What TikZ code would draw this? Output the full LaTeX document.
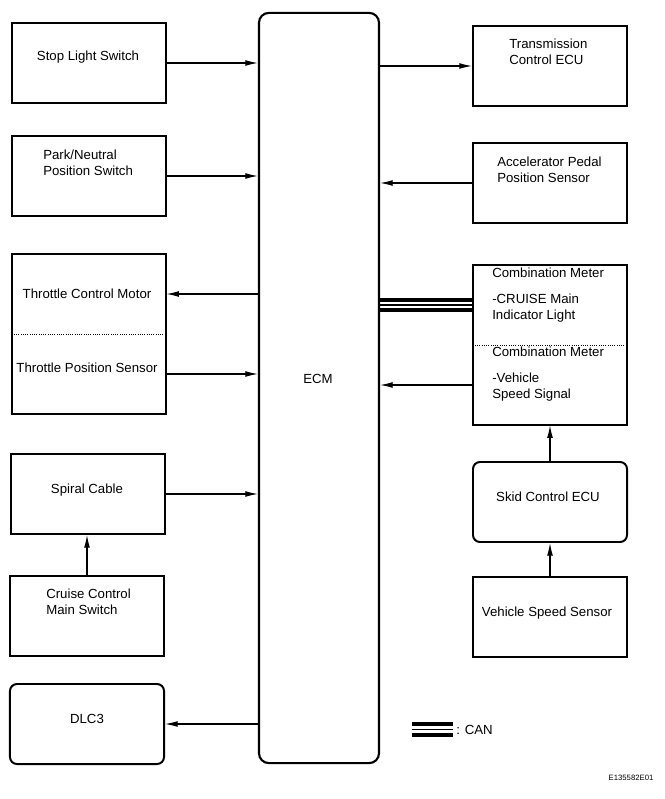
\documentclass[tikz,border=0pt]{standalone}
\usepackage{fontspec}
\setmainfont{Liberation Sans}
\usetikzlibrary{arrows.meta}
\begin{document}
\begin{tikzpicture}[x=0.025cm, y=-0.025cm,
            every node/.style={font=\fontsize{9.4}{11}\selectfont, inner sep=0pt},
            unit/.style={draw, line width=1.4pt, minimum width=3.85cm, minimum height=2cm},
            plainunit/.style={minimum width=3.85cm, minimum height=2cm},
            roundunit/.style={unit, rounded corners=5pt},
            txt/.style={align=left, anchor=west},
            sig/.style={line width=0.8pt, -{Latex[length=9pt,width=4.2pt]}},
            sep/.style={densely dotted, line width=0.6pt}]
            \useasboundingbox (0,0) rectangle (664,799);
            \node[draw, line width=1.5pt, rounded corners=7pt, minimum width=3cm, minimum height=18.75cm] (ecm) at (319,388) {};
            \node (ecmlbl) at (318,379) {ECM};
            \node[unit] (stop) at (89,63) {};
            \node (stoplbl) at (88,57) {Stop Light Switch};
            \node[unit] (park) at (89,176) {};
            \node[txt] (parklbl) at (43,163) {Park/Neutral\\Position Switch};
            \node[plainunit] (tcm) at (89,294) {};
            \node[plainunit] (tps) at (89,374) {};
            \draw[line width=1.4pt] (tcm.north west) rectangle (tps.south east);
            \draw[sep] (tcm.south west) -- (tcm.south east);
            \node (tcmlbl) at (87,294) {Throttle Control Motor};
            \node (tpslbl) at (87,368) {Throttle Position Sensor};
            \node[unit] (spiral) at (88,494) {};
            \node (spirallbl) at (87,490) {Spiral Cable};
            \node[unit] (cruise) at (87,616) {};
            \node[txt] (cruiselbl) at (46,602) {Cruise Control\\Main Switch};
            \node[roundunit] (dlc) at (87,724) {};
            \node (dlclbl) at (87,719) {DLC3};
            \node[unit] (trans) at (550,66) {};
            \node[txt] (translbl) at (509,52) {Transmission\\Control ECU};
            \node[unit] (accel) at (550,183) {};
            \node[txt] (accellbl) at (497,170) {Accelerator Pedal\\Position Sensor};
            \node[plainunit] (cmc) at (550,305) {};
            \node[plainunit] (cmv) at (550,385) {};
            \draw[line width=1.4pt] (cmc.north west) rectangle (cmv.south east);
            \draw[sep] (cmc.south west) -- (cmc.south east);
            \node[txt] (cmclbl) at (492,295) {Combination Meter\\[7.5pt]-CRUISE Main\\Indicator Light};
            \node[txt] (cmvlbl) at (492,374) {Combination Meter\\[7.5pt]-Vehicle\\Speed Signal};
            \node[roundunit] (skid) at (550,502) {};
            \node (skidlbl) at (548,497) {Skid Control ECU};
            \node[unit] (vss) at (550,617) {};
            \node (vsslbl) at (547,613) {Vehicle Speed Sensor};
            \draw[sig] (stop.east) -- (stop.east -| ecm.west);
            \draw[sig] (park.east) -- (park.east -| ecm.west);
            \draw[sig] (tcm.east -| ecm.west) -- (tcm.east);
            \draw[sig] (tps.east) -- (tps.east -| ecm.west);
            \draw[sig] (spiral.east) -- (spiral.east -| ecm.west);
            \draw[sig] (dlc.east -| ecm.west) -- (dlc.east);
            \draw[sig] (cruise.north) -- (cruise.north |- spiral.south);
            \draw[sig] (trans.west -| ecm.east) -- (trans.west);
            \draw[sig] (accel.west) -- (accel.west -| ecm.east);
            \draw[sig] (cmv.west) -- (cmv.west -| ecm.east);
            \draw[sig] (skid.north) -- (cmv.south);
            \draw[sig] (vss.north) -- (skid.south);
            \foreach \dy/\lw in {3.6pt/2.8pt, 0pt/1pt, -3.6pt/2.8pt}
                \draw[line width=\lw] ([yshift=\dy]cmc.west -| ecm.east) -- ([yshift=\dy]cmc.west);
            \coordinate (canA) at (412,729.5);
            \coordinate (canB) at (453,729.5);
            \foreach \dy/\lw in {3.6pt/2.8pt, 0pt/1pt, -3.6pt/2.8pt}
                \draw[line width=\lw] ([yshift=\dy]canA) -- ([yshift=\dy]canB);
            \node[anchor=west] (canlbl) at (456,730) {: CAN};
            \node[font=\fontsize{5.5}{6}\selectfont] (code) at (631,778) {E135582E01};
        \end{tikzpicture}
\end{document}
